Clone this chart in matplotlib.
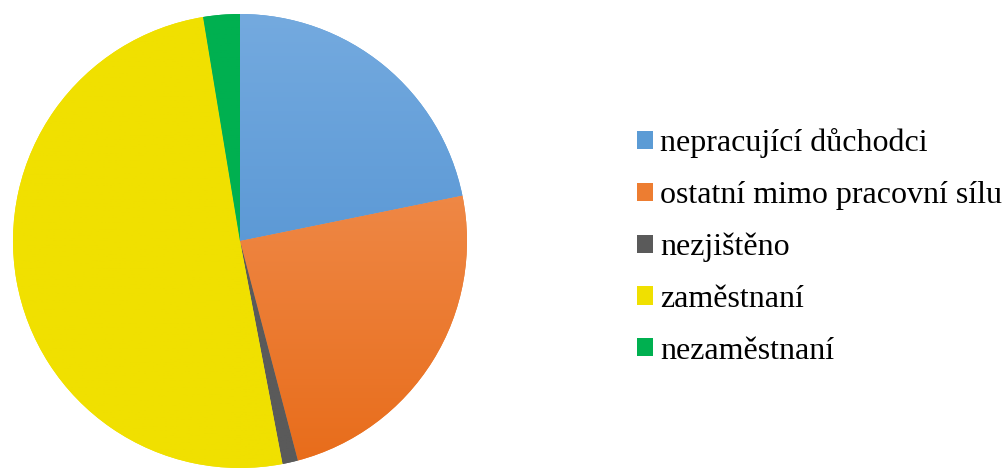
import numpy as np
import matplotlib.pyplot as plt
from matplotlib.patches import Patch
from matplotlib.colors import LinearSegmentedColormap

# Share of population by labour status
labels = ["nepracující důchodci", "ostatní mimo pracovní sílu", "nezjištěno",
          "zaměstnaní", "nezaměstnaní"]
shares = [21.8, 24.1, 1.1, 50.4, 2.6]
top_colors = ["#74aadf", "#f39a62", "#5a5a5a", "#f0e000", "#00b050"]
bottom_colors = ["#4589cd", "#e86c1a", "#5a5a5a", "#f0e000", "#00b050"]
legend_colors = ["#5b9bd5", "#ed7d31", "#5a5a5a", "#f0e000", "#00b050"]

plt.rcParams["font.family"] = ["Liberation Serif", "DejaVu Serif"]

fig = plt.figure(figsize=(10.05, 4.68), dpi=100)
ax = fig.add_axes([13 / 1005, 0 / 468, 454 / 1005, 454 / 468])

wedges, _ = ax.pie(shares, colors=legend_colors, startangle=90, counterclock=False,
                   radius=1, wedgeprops=dict(linewidth=0))

# Excel-like vertical gradient on each slice
grad = np.linspace(0, 1, 256).reshape(-1, 1)
for w, c1, c2 in zip(wedges, top_colors, bottom_colors):
    cmap = LinearSegmentedColormap.from_list("g", [c1, c2])
    im = ax.imshow(grad, cmap=cmap, extent=(-1, 1, -1, 1), origin="upper",
                   aspect="auto", zorder=w.get_zorder() + 0.1)
    im.set_clip_path(w)

ax.set_xlim(-1.0, 1.0)
ax.set_ylim(-1.0, 1.0)
ax.set_aspect("equal")
ax.axis("off")

handles = [Patch(facecolor=c, edgecolor="none") for c in legend_colors]
fig.legend(handles, labels, loc="center left", bbox_to_anchor=(637 / 1005, 1 - 247 / 468),
           frameon=False, fontsize=23, handlelength=0.5, handleheight=0.5,
           handletextpad=0.22, labelspacing=0.71, borderaxespad=0, borderpad=0)

fig.savefig("out.png", dpi=100)
